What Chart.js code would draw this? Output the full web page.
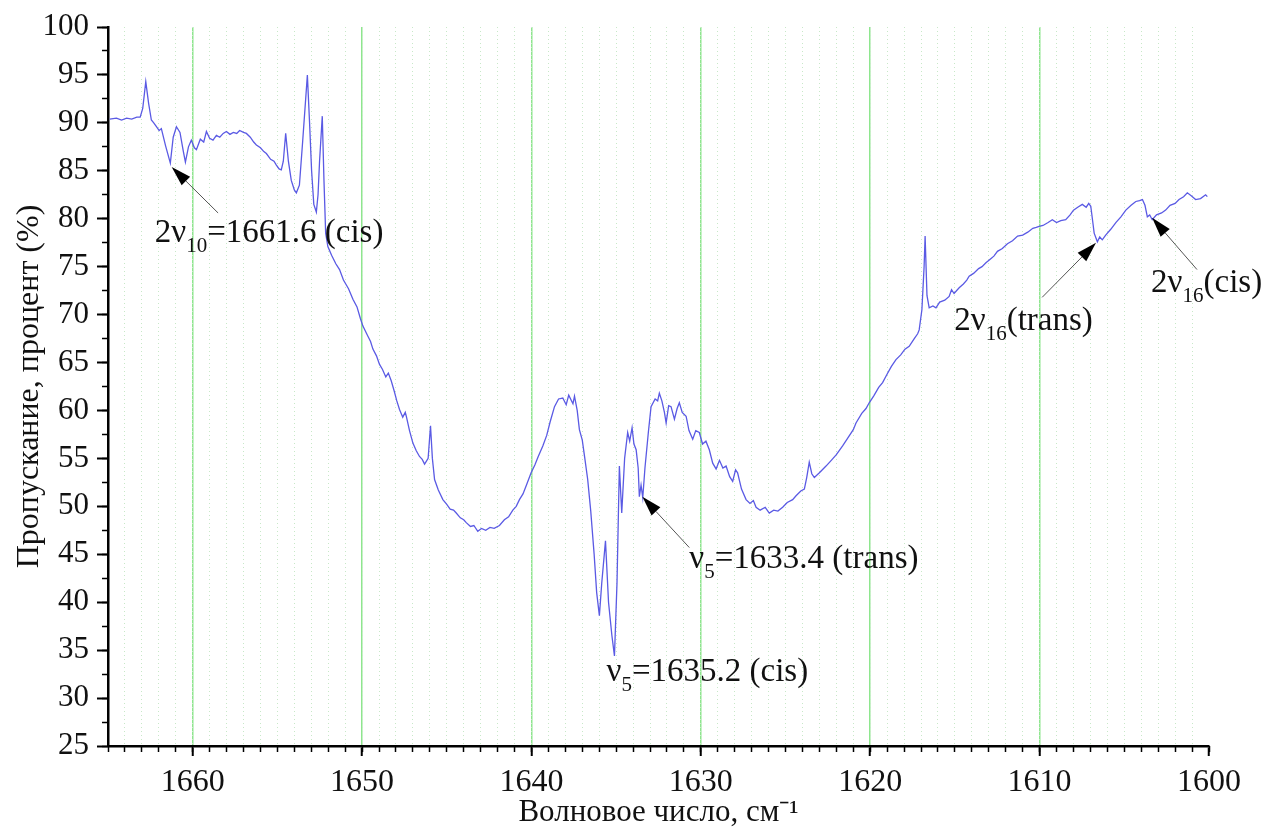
<!DOCTYPE html>
<html>
<head>
<meta charset="utf-8">
<script src="https://cdn.jsdelivr.net/npm/chart.js@4.4.0/dist/chart.umd.min.js"></script>
<style>
  html, body { margin: 0; padding: 0; background: #fff; }
</style>
</head>
<body>
<canvas id="grafico" width="1268" height="831"></canvas>
<script>
const numeroOnda = [
  1664.9, 1664.5, 1664.2, 1663.9, 1663.6, 1663.3, 1663.1, 1662.95, 1662.77, 1662.6,
  1662.44, 1662.3, 1662.14, 1661.98, 1661.85, 1661.6, 1661.32, 1661.15, 1660.96, 1660.75,
  1660.55, 1660.43, 1660.25, 1660.08, 1659.9, 1659.78, 1659.55, 1659.35, 1659.19, 1659.0,
  1658.8, 1658.6, 1658.4, 1658.2, 1658.01, 1657.8, 1657.6, 1657.4, 1657.23, 1657.0,
  1656.83, 1656.6, 1656.4, 1656.24, 1656.0, 1655.8, 1655.65, 1655.4, 1655.2, 1655.06,
  1654.9, 1654.77, 1654.65, 1654.51, 1654.35, 1654.18, 1654.0, 1653.88, 1653.7, 1653.51,
  1653.35, 1653.23, 1653.1, 1652.98, 1652.85, 1652.7, 1652.6, 1652.51, 1652.35, 1652.25,
  1652.15, 1652.02, 1651.8, 1651.55, 1651.33, 1651.1, 1650.8, 1650.54, 1650.3, 1650.1,
  1649.95, 1649.7, 1649.5, 1649.36, 1649.15, 1648.97, 1648.8, 1648.6, 1648.45, 1648.28,
  1648.1, 1647.95, 1647.79, 1647.6, 1647.45, 1647.39, 1647.2, 1647.0, 1646.8, 1646.61,
  1646.45, 1646.31, 1646.1, 1645.96, 1645.85, 1645.72, 1645.5, 1645.23, 1645.0, 1644.8,
  1644.6, 1644.44, 1644.2, 1644.0, 1643.85, 1643.6, 1643.4, 1643.17, 1642.95, 1642.7,
  1642.45, 1642.2, 1641.89, 1641.6, 1641.35, 1641.1, 1640.9, 1640.71, 1640.5, 1640.3,
  1640.02, 1639.8, 1639.6, 1639.33, 1639.1, 1638.9, 1638.64, 1638.4, 1638.15, 1637.95,
  1637.8, 1637.66, 1637.55, 1637.46, 1637.3, 1637.17, 1637.0, 1636.85, 1636.68, 1636.5,
  1636.3, 1636.15, 1635.99, 1635.85, 1635.63, 1635.45, 1635.25, 1635.1, 1634.95, 1634.81,
  1634.67, 1634.5, 1634.32, 1634.2, 1634.06, 1633.95, 1633.82, 1633.7, 1633.63, 1633.53,
  1633.43, 1633.3, 1633.1, 1632.94, 1632.7, 1632.55, 1632.45, 1632.3, 1632.15, 1632.05,
  1631.9, 1631.76, 1631.56, 1631.4, 1631.27, 1631.1, 1630.87, 1630.7, 1630.48, 1630.3,
  1630.09, 1629.9, 1629.7, 1629.5, 1629.3, 1629.1, 1628.9, 1628.7, 1628.51, 1628.3,
  1628.12, 1627.95, 1627.83, 1627.6, 1627.33, 1627.1, 1626.9, 1626.74, 1626.5, 1626.2,
  1625.96, 1625.7, 1625.45, 1625.17, 1624.9, 1624.58, 1624.38, 1624.1, 1623.89, 1623.75,
  1623.6, 1623.45, 1623.3, 1623.0, 1622.61, 1622.3, 1622.0, 1621.63, 1621.3, 1621.0,
  1620.84, 1620.5, 1620.25, 1620.06, 1619.8, 1619.5, 1619.27, 1619.0, 1618.75, 1618.48,
  1618.2, 1617.95, 1617.7, 1617.4, 1617.2, 1617.11, 1616.95, 1616.82, 1616.76, 1616.65,
  1616.52, 1616.3, 1616.12, 1615.9, 1615.6, 1615.34, 1615.2, 1615.05, 1614.75, 1614.5,
  1614.3, 1614.16, 1613.9, 1613.6, 1613.4, 1613.17, 1612.9, 1612.7, 1612.49, 1612.2,
  1611.9, 1611.6, 1611.3, 1611.0, 1610.7, 1610.4, 1610.2, 1610.03, 1609.8, 1609.5,
  1609.25, 1609.0, 1608.75, 1608.46, 1608.2, 1608.0, 1607.75, 1607.48, 1607.25, 1607.1,
  1606.98, 1606.85, 1606.78, 1606.59, 1606.45, 1606.3, 1606.1, 1605.8, 1605.5, 1605.2,
  1604.91, 1604.6, 1604.32, 1604.1, 1603.93, 1603.78, 1603.64, 1603.5, 1603.35, 1603.1,
  1602.8, 1602.56, 1602.3, 1602.0, 1601.77, 1601.5, 1601.28, 1601.05, 1600.79, 1600.5,
  1600.2, 1600.1
];

const transmision = [
  90.4, 90.5, 90.3, 90.5, 90.4, 90.6, 90.6, 91.5, 94.3, 92.0,
  90.3, 90.0, 89.6, 89.2, 89.4, 87.6, 85.8, 88.5, 89.6, 89.0,
  87.0, 85.9, 87.5, 88.2, 87.4, 87.2, 88.3, 88.0, 89.1, 88.4,
  88.2, 88.7, 88.5, 88.9, 89.1, 88.8, 89.0, 88.9, 89.2, 89.0,
  88.9, 88.5, 88.0, 87.7, 87.4, 87.0, 86.8, 86.2, 86.0, 85.6,
  85.2, 85.1, 86.0, 88.9, 86.0, 84.0, 83.0, 82.7, 83.5, 88.0,
  92.0, 95.0, 90.0, 85.0, 81.5, 80.7, 82.5, 86.0, 90.7, 84.0,
  78.5, 77.1, 76.2, 75.3, 74.7, 73.6, 72.7, 71.6, 70.8, 69.6,
  68.8, 67.9, 67.2, 66.4, 65.7, 64.8, 64.3, 63.5, 63.9, 63.1,
  62.0, 61.0, 60.1, 59.3, 59.8, 59.4, 57.9, 56.6, 55.8, 55.2,
  54.9, 54.4, 55.0, 58.4, 55.0, 52.8, 51.7, 50.7, 50.2, 49.7,
  49.6, 49.3, 48.8, 48.6, 48.3, 47.9, 48.0, 47.4, 47.7, 47.5,
  47.8, 47.7, 48.0, 48.6, 48.9, 49.6, 50.0, 50.7, 51.3, 52.2,
  53.5, 54.3, 55.2, 56.3, 57.4, 58.8, 60.4, 61.2, 61.3, 60.6,
  61.6, 61.1, 60.7, 61.5, 60.0, 58.0, 56.9, 55.0, 52.8, 49.5,
  45.0, 41.0, 38.6, 42.0, 46.4, 40.0, 36.5, 34.4, 42.0, 54.2,
  49.3, 55.0, 57.7, 56.8, 58.2, 56.5, 55.9, 54.0, 51.0, 52.2,
  50.9, 54.0, 57.7, 60.4, 61.2, 61.0, 61.8, 61.0, 59.8, 58.7,
  60.5, 60.4, 59.1, 60.2, 60.8, 59.8, 59.4, 57.9, 57.0, 57.9,
  57.7, 56.5, 56.8, 55.9, 54.5, 53.9, 54.8, 54.0, 54.2, 53.1,
  52.6, 53.8, 53.5, 51.8, 50.7, 50.3, 50.6, 49.9, 49.6, 49.9,
  49.3, 49.6, 49.5, 49.9, 50.4, 50.7, 51.1, 51.6, 51.8, 53.0,
  54.6, 53.4, 53.0, 53.5, 54.2, 54.8, 55.4, 56.3, 57.2, 58.0,
  58.7, 59.7, 60.2, 60.8, 61.5, 62.4, 62.9, 63.8, 64.6, 65.3,
  65.8, 66.4, 66.7, 67.5, 68.0, 68.4, 70.5, 75.0, 78.2, 72.0,
  70.7, 70.9, 70.7, 71.3, 71.5, 71.9, 72.6, 72.2, 72.8, 73.2,
  73.6, 74.0, 74.3, 74.8, 75.0, 75.4, 75.8, 76.1, 76.6, 76.9,
  77.4, 77.7, 78.2, 78.3, 78.6, 79.0, 79.1, 79.2, 79.3, 79.6,
  79.9, 79.6, 79.8, 79.9, 80.4, 80.9, 81.2, 81.5, 81.2, 81.6,
  81.3, 79.5, 78.5, 77.6, 78.1, 77.8, 78.3, 78.9, 79.6, 80.2,
  80.9, 81.4, 81.8, 81.9, 82.0, 81.4, 80.2, 80.4, 79.9, 80.4,
  80.6, 80.9, 81.4, 81.6, 82.0, 82.3, 82.7, 82.4, 82.0, 82.1,
  82.5, 82.3
];

const ticksX = [1660, 1650, 1640, 1630, 1620, 1610, 1600];
const ticksY = [25, 30, 35, 40, 45, 50, 55, 60, 65, 70, 75, 80, 85, 90, 95, 100];

// textos con flechas: posicion del texto y flecha [desde x, desde y, hasta x, hasta y]
const etiquetas = [
  { partes: [['2ν'], ['10', 'sub'], ['=1661.6 (cis)']], x: 1662.24, y: 77.6, flecha: [1658.5, 80.6, 1661.24, 85.4] },
  { partes: [['ν'], ['5', 'sub'], ['=1635.2 (cis)']], x: 1635.57, y: 31.8, flecha: null },
  { partes: [['ν'], ['5', 'sub'], ['=1633.4 (trans)']], x: 1630.68, y: 43.6, flecha: [1630.68, 45.7, 1633.45, 51.0] },
  { partes: [['2ν'], ['16', 'sub'], ['(trans)']], x: 1615.04, y: 68.4, flecha: [1609.85, 71.8, 1606.67, 77.5] },
  { partes: [['2ν'], ['16', 'sub'], ['(cis)']], x: 1603.42, y: 72.4, flecha: [1600.71, 74.7, 1603.36, 80.1] }
];

const fuente = "'Liberation Serif', 'Times New Roman', serif";

const anotaciones = {
  id: 'anotaciones',
  afterDatasetsDraw(chart) {
    const ctx = chart.ctx;
    const sx = chart.scales.x;
    const sy = chart.scales.y;
    ctx.save();
    etiquetas.forEach(et => {
      if (et.flecha) {
        const ax = sx.getPixelForValue(et.flecha[0]);
        const ay = sy.getPixelForValue(et.flecha[1]);
        const bx = sx.getPixelForValue(et.flecha[2]);
        const by = sy.getPixelForValue(et.flecha[3]);
        const ang = Math.atan2(by - ay, bx - ax);
        const largo = 20, ancho = 6;
        const baseX = bx - largo * Math.cos(ang);
        const baseY = by - largo * Math.sin(ang);
        ctx.strokeStyle = '#555';
        ctx.lineWidth = 1;
        ctx.beginPath();
        ctx.moveTo(ax, ay);
        ctx.lineTo(baseX, baseY);
        ctx.stroke();
        ctx.fillStyle = '#000';
        ctx.beginPath();
        ctx.moveTo(bx, by);
        ctx.lineTo(baseX + ancho * Math.sin(ang), baseY - ancho * Math.cos(ang));
        ctx.lineTo(baseX - ancho * Math.sin(ang), baseY + ancho * Math.cos(ang));
        ctx.closePath();
        ctx.fill();
      }
      let x = sx.getPixelForValue(et.x);
      const y = sy.getPixelForValue(et.y);
      ctx.textAlign = 'left';
      ctx.textBaseline = 'alphabetic';
      ctx.fillStyle = '#111';
      et.partes.forEach(([texto, tipo]) => {
        ctx.font = tipo === 'sub' ? `21px ${fuente}` : `33px ${fuente}`;
        ctx.fillText(texto, x, tipo === 'sub' ? y + 10 : y);
        x += ctx.measureText(texto).width;
      });
    });
    ctx.restore();
  }
};

function fijarTamano(valor, horizontal) {
  return (s) => {
    if (horizontal) s.height = valor; else s.width = valor;
    s.paddingLeft = 0; s.paddingRight = 0; s.paddingTop = 0; s.paddingBottom = 0;
  };
}

const ctx = document.getElementById('grafico').getContext('2d');
const grafico = new Chart(ctx, {
  type: 'line',
  data: {
    datasets: [{
      data: numeroOnda.map((w, i) => ({ x: w, y: transmision[i] })),
      borderColor: '#5a5ae4',
      borderWidth: 1.3,
      pointRadius: 0,
      tension: 0,
      fill: false
    }]
  },
  options: {
    responsive: false,
    animation: false,
    devicePixelRatio: 1,
    layout: { padding: { top: 27, right: 59, bottom: 0, left: 0 } },
    plugins: { legend: { display: false }, tooltip: { enabled: false } },
    scales: {
      x: {
        type: 'linear', position: 'bottom', reverse: true, min: 1600, max: 1665, weight: 1,
        afterBuildTicks: s => { s.ticks = ticksX.map(v => ({ value: v })); },
        ticks: { callback: v => String(v), font: { family: fuente, size: 32 }, color: '#111', padding: 7, maxRotation: 0, autoSkip: false },
        grid: {
          color: c => (c.tick && c.tick.value === 1600) ? 'rgba(0,0,0,0)' : '#8ee68e',
          lineWidth: 1.5, tickColor: '#000', tickLength: 10, tickWidth: 2
        },
        border: { color: '#000', width: 2.5 },
        title: { display: true, text: 'Волновое число, см⁻¹', font: { family: fuente, size: 31 }, color: '#111', padding: { top: 0, bottom: 0 } },
        afterFit: fijarTamano(85, true)
      },
      xMenor: {
        type: 'linear', position: 'bottom', reverse: true, min: 1600, max: 1665, weight: 0,
        ticks: { stepSize: 1, display: false, autoSkip: false },
        grid: {
          color: c => (c.tick && (c.tick.value === 1600 || c.tick.value === 1665)) ? 'rgba(0,0,0,0)' : '#c8e8c8',
          lineWidth: 1, tickColor: '#000', tickLength: 6, tickWidth: 1.5
        },
        border: { display: false, dash: [1, 3] },
        afterFit: fijarTamano(0, true)
      },
      y: {
        type: 'linear', position: 'left', min: 25, max: 100, weight: 1,
        afterBuildTicks: s => { s.ticks = ticksY.map(v => ({ value: v })); },
        ticks: { font: { family: fuente, size: 31 }, color: '#111', padding: 8 },
        grid: { drawOnChartArea: false, tickColor: '#000', tickLength: 11, tickWidth: 2 },
        border: { color: '#000', width: 2.5 },
        title: { display: true, text: 'Пропускание, процент (%)', font: { family: fuente, size: 32 }, color: '#111', padding: { top: 10, bottom: 0 } },
        afterFit: fijarTamano(108, false)
      },
      yMenor: {
        type: 'linear', position: 'left', min: 25, max: 100, weight: 0,
        ticks: { stepSize: 2.5, display: false },
        grid: { drawOnChartArea: false, tickColor: '#000', tickLength: 6, tickWidth: 1.5 },
        border: { display: false },
        afterFit: fijarTamano(0, false)
      }
    }
  },
  plugins: [anotaciones]
});
</script>
</body>
</html>
